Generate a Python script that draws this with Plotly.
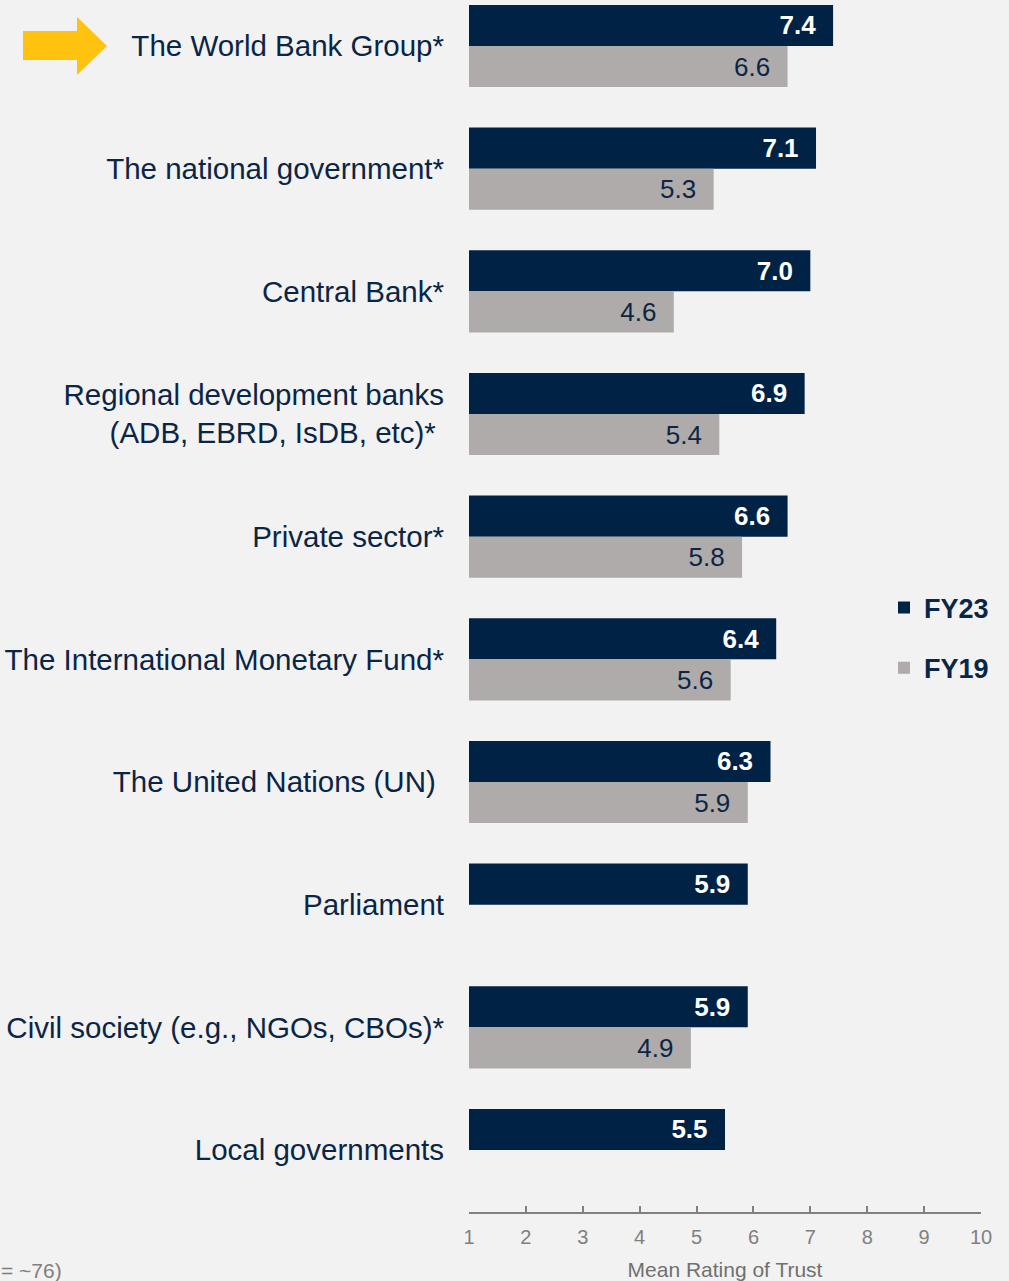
import plotly.graph_objects as go

categories = [
    "The World Bank Group*",
    "The national government*",
    "Central Bank*",
    "Regional development banks<br>(ADB, EBRD, IsDB, etc)*\u00a0",
    "Private sector*",
    "The International Monetary Fund*",
    "The United Nations (UN)\u00a0",
    "Parliament",
    "Civil society (e.g., NGOs, CBOs)*",
    "Local governments",
]
fy23 = [7.4, 7.1, 7.0, 6.9, 6.6, 6.4, 6.3, 5.9, 5.9, 5.5]
fy19 = [6.6, 5.3, 4.6, 5.4, 5.8, 5.6, 5.9, None, 4.9, None]
x_ticks = [1, 2, 3, 4, 5, 6, 7, 8, 9, 10]

NAVY = "#002244"
GRAY_BAR = "#AEABAA"
TEXT_NAVY = "#0B2545"
AXIS_GRAY = "#808080"
BG = "#F2F2F2"
FONT = "Liberation Sans, Arial, sans-serif"

W, H = 1009, 1281
L, R, T, B = 469, 28, 0, 69
pw, ph = W - L - R, H - T - B


def px(xp):
    return (xp - L) / pw


def py(yp):
    return 1 - (yp - T) / ph


fig = go.Figure()
fig.add_trace(go.Bar(
    name="FY23", y=categories, x=fy23, orientation="h",
    marker=dict(color=NAVY, line=dict(width=0)),
    text=[f"{v:.1f}\u00a0\u00a0" for v in fy23],
    textposition="inside", insidetextanchor="end",
    textfont=dict(color="white", size=26, family=FONT, weight="bold"),
    legendgroup="a",
))
fig.add_trace(go.Bar(
    name="FY19", y=categories, x=fy19, orientation="h",
    marker=dict(color=GRAY_BAR, line=dict(width=0)),
    text=[(f"{v:.1f}\u00a0\u00a0" if v is not None else "") for v in fy19],
    textposition="inside", insidetextanchor="end",
    textfont=dict(color=TEXT_NAVY, size=26, family=FONT),
    legendgroup="b",
))

# category index i sits at pixel 46 + i*122.67
step = (1150 - 46) / 9
y_top = -(46 - T) / step
y_bot = (T + ph - 46) / step

fig.update_layout(
    width=W, height=H,
    margin=dict(l=L, r=R, t=T, b=B, pad=0),
    paper_bgcolor=BG, plot_bgcolor=BG,
    barmode="group", bargap=0.33, bargroupgap=0,
    font=dict(family=FONT, color=TEXT_NAVY),
    xaxis=dict(
        range=[1, 10], tickvals=x_ticks, showgrid=False, zeroline=False,
        showline=True, linecolor=AXIS_GRAY, linewidth=2,
        ticks="inside", ticklen=6, tickwidth=2, tickcolor=AXIS_GRAY,
        ticklabelstandoff=6,
        tickfont=dict(size=20, color=AXIS_GRAY, family=FONT),
        title=dict(text="Mean Rating of Trust", font=dict(size=21, color="#707070", family=FONT), standoff=15),
    ),
    yaxis=dict(
        type="category", range=[y_bot, y_top], showgrid=False, zeroline=False,
        showline=False, ticks="", ticklabelstandoff=24,
        tickfont=dict(size=29.5, color=TEXT_NAVY, family=FONT),
    ),
    legend=dict(
        x=px(884), xanchor="left", y=py(638), yanchor="middle",
        font=dict(size=27, color=TEXT_NAVY, family=FONT, weight="bold"),
        bgcolor="rgba(0,0,0,0)", traceorder="grouped", tracegroupgap=22,
        itemwidth=30,
    ),
    showlegend=True,
)

# yellow arrow pointing at the World Bank Group label
ax0, ax1, ax2 = px(23), px(77), px(107)
ay_top, ay_bt = py(31), py(60)
ah_top, ah_bt, ay_mid = py(17), py(75), py(46)
fig.add_shape(
    type="path", xref="paper", yref="paper",
    path=(f"M {ax0},{ay_top} L {ax1},{ay_top} L {ax1},{ah_top} L {ax2},{ay_mid} "
          f"L {ax1},{ah_bt} L {ax1},{ay_bt} L {ax0},{ay_bt} Z"),
    fillcolor="#FFC20E", line=dict(width=0),
)

# cut-off footnote at bottom left (cut off in the reference too)
fig.add_annotation(
    text="(N = ~76)", xref="paper", yref="paper", x=px(64), y=py(1270),
    xanchor="right", yanchor="middle", showarrow=False,
    font=dict(size=21, color="#7F7F7F", family=FONT),
)

fig.write_html(
    "out.html",
    config={"displayModeBar": False},
    post_script="document.body.style.margin='0';",
)
